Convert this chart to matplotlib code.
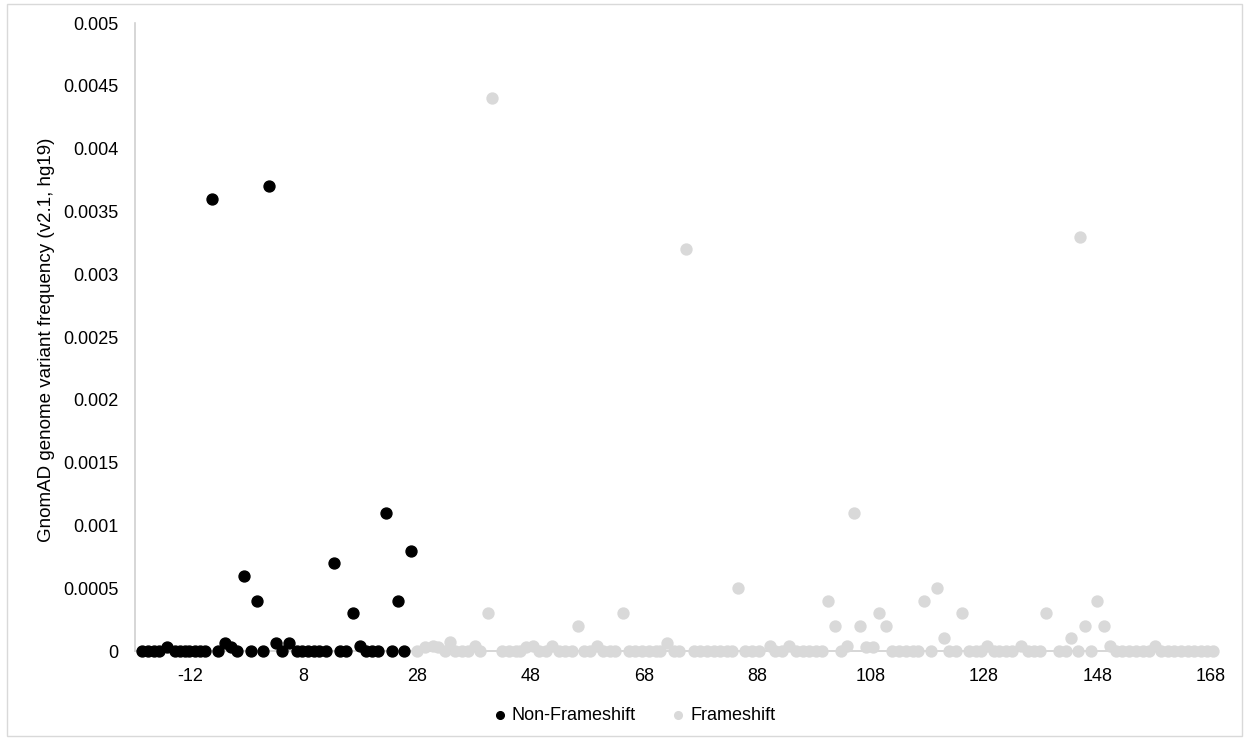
import matplotlib.pyplot as plt
from matplotlib.patches import Rectangle

plt.rcParams['font.family'] = ['Liberation Sans', 'DejaVu Sans']
plt.rcParams['axes.unicode_minus'] = False

# Non-Frameshift variants (position, frequency)
nonfs_x = [-20.4, -19.4, -18.4, -17.4, -16.1, -14.7, -13.8, -12.9, -12.1, -11.2,
           -10.3, -9.4, -8.1, -7.1, -5.8, -4.8, -3.7, -2.5, -1.3, -0.2,
           0.9, 2.0, 3.2, 4.3, 5.4, 6.8, 7.8, 8.8, 9.8, 10.8,
           12.0, 13.4, 14.5, 15.5, 16.7, 17.9, 19.1, 20.1, 21.2, 22.5,
           23.6, 24.7, 25.8, 26.9]
nonfs_y = [0, 0, 0, 0, 0.00003, 0, 0, 0, 0, 0,
           0, 0, 0.0036, 0, 0.00006, 0.00003, 0, 0.0006, 0, 0.0004,
           0, 0.0037, 0.00006, 0, 0.00006, 0, 0, 0, 0, 0,
           0, 0.0007, 0, 0, 0.0003, 0.00004, 0, 0, 0, 0.0011,
           0, 0.0004, 0, 0.0008]

# Frameshift variants (position, frequency)
fs_x = [28.0, 29.5, 30.8, 31.8, 32.9, 33.8, 34.8, 36.0, 37.0, 38.2,
        39.2, 40.6, 41.3, 43.0, 44.2, 45.4, 46.2, 47.3, 48.5, 49.5,
        50.7, 51.8, 53.0, 54.2, 55.4, 56.4, 57.4, 58.6, 59.8, 60.9,
        62.1, 63.0, 64.3, 65.4, 66.5, 67.7, 68.9, 70.1, 70.9, 72.1,
        73.3, 74.2, 75.4, 76.8, 78.0, 79.2, 80.4, 81.5, 82.7, 83.6,
        84.6, 85.9, 87.1, 88.3, 90.2, 91.2, 92.4, 93.6, 94.8, 96.0,
        97.1, 98.3, 99.5, 100.5, 101.7, 102.7, 103.9, 105.0, 106.2, 107.2,
        108.4, 109.5, 110.7, 111.8, 113.0, 114.2, 115.4, 116.4, 117.5, 118.6,
        119.7, 120.9, 121.8, 123.0, 124.2, 125.4, 126.5, 127.4, 128.6, 129.8,
        130.6, 131.8, 133.0, 134.5, 135.7, 136.8, 137.9, 138.9, 141.2, 142.4,
        143.4, 144.6, 144.9, 145.8, 146.8, 147.9, 149.2, 150.2, 151.2, 152.4,
        153.6, 154.8, 156.0, 157.1, 158.1, 159.2, 160.4, 161.5, 162.7, 163.9,
        165.1, 166.2, 167.4, 168.3]
fs_y = [0, 0.00003, 0.00004, 0.00003, 0, 0.00007, 0, 0, 0, 0.00004,
        0, 0.0003, 0.0044, 0, 0, 0, 0, 0.00003, 0.00004, 0,
        0, 0.00004, 0, 0, 0, 0.0002, 0, 0, 0.00004, 0,
        0, 0, 0.0003, 0, 0, 0, 0, 0, 0, 0.00006,
        0, 0, 0.0032, 0, 0, 0, 0, 0, 0, 0,
        0.0005, 0, 0, 0, 0.00004, 0, 0, 0.00004, 0, 0,
        0, 0, 0, 0.0004, 0.0002, 0, 0.00004, 0.0011, 0.0002, 0.00003,
        0.00003, 0.0003, 0.0002, 0, 0, 0, 0, 0, 0.0004, 0,
        0.0005, 0.0001, 0, 0, 0.0003, 0, 0, 0, 0.00004, 0,
        0, 0, 0, 0.00004, 0, 0, 0, 0.0003, 0, 0,
        0.0001, 0, 0.0033, 0.0002, 0, 0.0004, 0.0002, 0.00004, 0, 0,
        0, 0, 0, 0, 0.00004, 0, 0, 0, 0, 0,
        0, 0, 0, 0]

x_ticks = [-12, 8, 28, 48, 68, 88, 108, 128, 148, 168]
y_ticks = [0, 0.0005, 0.001, 0.0015, 0.002, 0.0025, 0.003, 0.0035, 0.004, 0.0045, 0.005]
y_labels = ['0', '0.0005', '0.001', '0.0015', '0.002', '0.0025', '0.003',
            '0.0035', '0.004', '0.0045', '0.005']

fig = plt.figure(figsize=(12.49, 7.40), dpi=100)
ax = fig.add_axes([135 / 1249, 1 - 651 / 740, 1081 / 1249, 628 / 740])

ax.scatter(fs_x, fs_y, s=62, color='#d9d9d9', label='Frameshift', zorder=3, clip_on=False)
ax.scatter(nonfs_x, nonfs_y, s=62, color='black', label='Non-Frameshift', zorder=4, clip_on=False)

ax.set_xlim(-21.7, 168.9)
ax.set_ylim(0, 0.005)
ax.set_xticks(x_ticks)
ax.set_yticks(y_ticks)
ax.set_yticklabels(y_labels)
ax.tick_params(length=0, labelsize=13, pad=12)

for side in ['top', 'right']:
    ax.spines[side].set_visible(False)
ax.spines['left'].set_color('#d0d0d0')
ax.spines['bottom'].set_color('#d0d0d0')
ax.spines['left'].set_linewidth(1.2)
ax.spines['bottom'].set_linewidth(1.2)

ax.set_ylabel('GnomAD genome variant frequency (v2.1, hg19)', fontsize=13.5)
ax.yaxis.set_label_coords(-0.074, 0.495)

handles, labels = ax.get_legend_handles_labels()
fig.legend(handles[::-1], labels[::-1], loc='center', bbox_to_anchor=(0.508, 1 - 715 / 740),
           ncol=2, frameon=False, fontsize=13, handlelength=0.7, handletextpad=0.3,
           columnspacing=2.0, markerscale=0.7)

fig.add_artist(Rectangle((7 / 1249, 4 / 740), 1235 / 1249, 732 / 740,
                         transform=fig.transFigure, fill=False,
                         edgecolor='#d9d9d9', linewidth=1))

fig.savefig('out.png', dpi=100)
